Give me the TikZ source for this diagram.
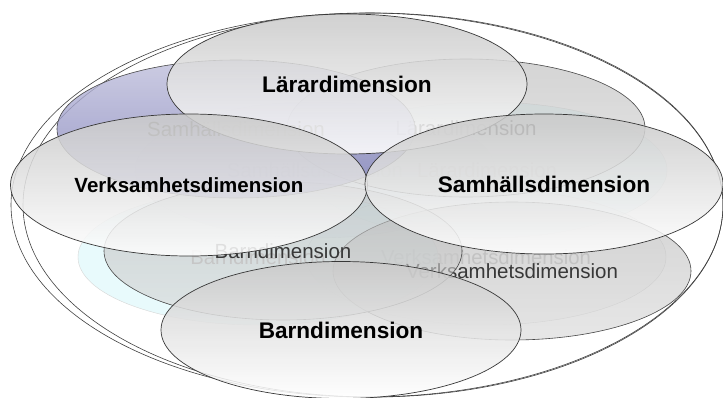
\documentclass[tikz,border=0pt]{standalone}
\usepackage{fontspec}
\setmainfont{Liberation Sans}
\usetikzlibrary{shapes.geometric}

\definecolor{samblue}{RGB}{124,124,184}
\definecolor{samlight}{RGB}{192,192,220}
\definecolor{tintcyan}{RGB}{205,246,250}
\definecolor{tintlilac}{RGB}{228,214,236}

\begin{document}
\begin{tikzpicture}[x=1pt,y=-1pt,
  dimring/.style={ellipse, inner sep=0pt, text opacity=1},
  outerline/.style={draw=black!75, line width=0.6pt},
  innerdim/.style={dimring, draw=black!16, line width=0.4pt, fill opacity=0.45,
    minimum width=360pt, minimum height=136pt,
    font=\fontsize{20.3}{24}\selectfont, text=black!26},
  middim/.style={dimring, draw=black!72, line width=0.6pt, fill opacity=0.62,
    top color=black!27, bottom color=black!15,
    minimum width=358pt, minimum height=138pt,
    font=\fontsize{20.5}{24}\selectfont, text=black!78},
  frontdim/.style={dimring, draw=black!78, line width=0.7pt, fill opacity=0.86,
    top color=black!21, bottom color=white,
    font=\fontsize{22.6}{26}\selectfont\bfseries, text=black}]

\useasboundingbox (0,0) rectangle (723,397);

% outer rings
\fill[white] (367,205) ellipse [x radius=356pt, y radius=192pt];
\draw[outerline] (367,205) ellipse [x radius=356pt, y radius=192pt];
\draw[outerline] (373,205) ellipse [x radius=350pt, y radius=192pt];

% inner layer
\node[innerdim, fill=tintlilac] (samInner) at (315,170) {Samhällsdimension};
\node[innerdim, fill=tintcyan] (larInner) at (487,170) {Lärardimension};
\node[innerdim, fill=black!6] (verInner) at (486,257) {Verksamhetsdimension};
\node[innerdim, fill=tintcyan] (barInner) at (258,257) {Barndimension};

% middle layer
\node[middim] (larMid) at (466,128) {Lärardimension};
\node[middim] (verMid) at (512,271) {Verksamhetsdimension};
\node[middim] (barMid) at (283,251) {Barndimension};
\node[middim, top color=samlight, bottom color=samblue, fill opacity=0.8,
  text=black!62] (samMid) at (236,129) {Samhällsdimension};

% front layer
\node[frontdim, minimum width=360pt, minimum height=140pt] (larFront) at (347,84) {Lärardimension};
\node[frontdim, minimum width=357pt, minimum height=142pt,
  font=\fontsize{20.5}{24}\selectfont\bfseries] (verFront) at (189,185) {Verksamhetsdimension};
\node[frontdim, minimum width=358pt, minimum height=140pt] (samFront) at (544,184) {Samhällsdimension};
\node[frontdim, minimum width=360pt, minimum height=137pt] (barFront) at (341,330) {Barndimension};

\end{tikzpicture}
\end{document}
